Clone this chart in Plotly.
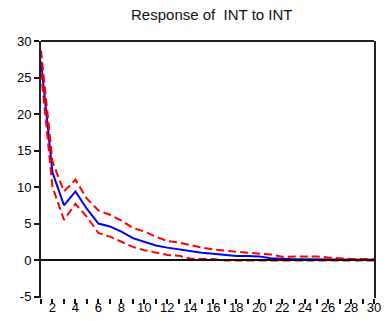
import plotly.graph_objects as go

periods = list(range(1, 31))
response = [27.2, 12.0, 7.5, 9.4, 7.0, 5.0, 4.6, 3.9, 3.0, 2.5,
            2.0, 1.7, 1.45, 1.2, 1.0, 0.85, 0.7, 0.55, 0.55, 0.5,
            0.25, 0.15, 0.12, 0.1, 0.1, 0.08, 0.06, 0.05, 0.05, 0.04]
upper = [28.7, 13.5, 9.4, 11.0, 8.4, 6.8, 6.2, 5.4, 4.4, 3.9,
         3.2, 2.6, 2.4, 2.0, 1.7, 1.45, 1.35, 1.15, 1.0, 0.9,
         0.75, 0.45, 0.5, 0.5, 0.5, 0.35, 0.2, 0.15, 0.15, 0.1]
lower = [25.8, 10.0, 5.5, 7.7, 5.9, 3.7, 3.2, 2.5, 1.8, 1.35,
         1.0, 0.7, 0.6, 0.2, 0.15, 0.15, -0.05, -0.05, -0.05, -0.05,
         -0.05, -0.05, -0.05, -0.05, -0.05, -0.05, -0.05, -0.05, -0.05, -0.05]
title_text = "Response of  INT to INT"
y_ticks = [-5, 0, 5, 10, 15, 20, 25, 30]
y_labels = ["-5", "0", "5", "10", "15", "20", "25", "30"]
x_ticks = list(range(2, 31, 2))
x_labels = [str(v) for v in x_ticks]

fig = go.Figure()
fig.add_trace(go.Scatter(x=periods, y=response, mode="lines",
                         line=dict(color="#0000ff", width=2), hoverinfo="skip"))
fig.add_trace(go.Scatter(x=periods, y=upper, mode="lines",
                         line=dict(color="#ff0000", width=2, dash="8px,4px"), hoverinfo="skip"))
fig.add_trace(go.Scatter(x=periods, y=lower, mode="lines",
                         line=dict(color="#ff0000", width=2, dash="8px,4px"), hoverinfo="skip"))

fig.add_shape(type="line", xref="paper", yref="paper", x0=0, x1=1, y0=1, y1=1,
              line=dict(color="#222222", width=2))
fig.add_shape(type="line", xref="paper", yref="y", x0=0, x1=1, y0=0, y1=0,
              line=dict(color="#111111", width=2))

fig.update_layout(
    width=385, height=321,
    margin=dict(l=41, r=4, t=41, b=23),
    paper_bgcolor="white", plot_bgcolor="white",
    showlegend=False,
    font=dict(family="Liberation Sans, Arial, sans-serif", color="#000000", size=12),
    title=dict(text=title_text, x=0.55, xanchor="center", y=0.955, yanchor="middle",
               font=dict(size=15, family="Liberation Sans, Arial, sans-serif", color="#111111")),
    xaxis=dict(range=[1, 30], showgrid=False, zeroline=False, showline=False,
               tickmode="array", tickvals=x_ticks, ticktext=x_labels,
               ticks="outside", ticklen=5, tickwidth=1.5, tickcolor="#111111",
               ticklabelstandoff=-8, ticklabeloverflow="allow",
               minor=dict(tickmode="linear", tick0=1, dtick=1, ticks="outside",
                          ticklen=5, tickwidth=1.5, tickcolor="#111111"),
               tickfont=dict(size=13)),
    yaxis=dict(range=[-5.2, 30], showgrid=False, zeroline=False,
               showline=True, mirror=True, linecolor="#222222", linewidth=2,
               tickmode="array", tickvals=y_ticks, ticktext=y_labels,
               ticks="outside", ticklen=5, tickwidth=1.5, tickcolor="#111111",
               tickfont=dict(size=13)),
)

fig.write_html("out.html")
